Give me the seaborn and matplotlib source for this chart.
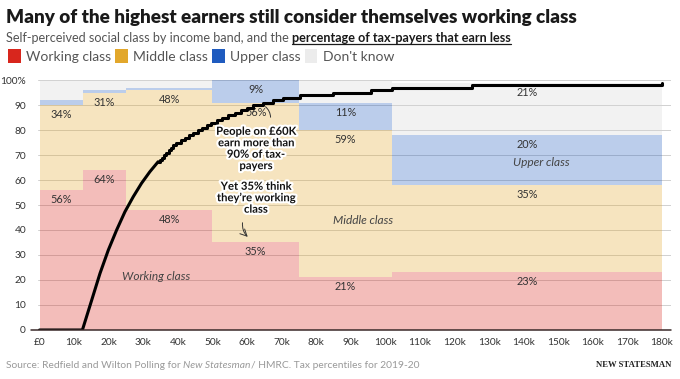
# SELF-PERCEIVED SOCIAL CLASS BY INCOME BAND

import numpy as np
import matplotlib.pyplot as plt
import matplotlib.patheffects as pe
from matplotlib.patches import Patch
from matplotlib.lines import Line2D
import seaborn as sns

# DATA

# income bands in £k (left edges + widths)
band_left = [0, 12.5, 25, 50, 75, 102]
band_width = [12.5, 12.5, 25, 25, 27, 78]

working = [56, 64, 48, 35, 21, 23]
middle = [34, 31, 48, 56, 59, 35]
upper = [2, 1, 1, 9, 11, 20]
dont_know = [8, 4, 3, 0, 9, 21]

# which segments get a % label
show_working = [True, True, True, True, True, True]
show_middle = [True, True, True, True, True, True]
show_upper = [False, False, False, True, True, True]
show_dk = [False, False, False, False, False, True]

# percentage of tax-payers earning less (smooth lower part)
curve_income = [0, 12.4, 15.1, 17.5, 19.9, 22.3, 24.7, 27.1, 29.5, 31.9, 34.3]
curve_pct = [0, 0, 12, 22.7, 32, 40, 47.3, 53.3, 58.7, 63.3, 67.3]

# upper part drawn as percentile steps
step_income = [34.3, 34.8, 35.5, 36.1, 36.7, 37.3, 37.9, 38.7, 39.6, 40.9,
               42.2, 43.3, 44.5, 45.7, 46.9, 48.3, 49.7, 51.2, 52.8, 54.6,
               56.5, 58.3, 60.1, 61.8, 64.6, 67.5, 70.5, 75.3, 85.0, 96.0,
               102.0, 125.0, 180.0]
step_pct = [67.3, 68, 69, 70, 71, 72, 73, 74, 75, 76,
            77, 78, 79, 80, 81, 82, 83, 84, 85, 86,
            87, 88, 89, 90, 91, 92, 93, 94, 95, 96,
            97, 98, 99]

x_ticks = list(range(0, 181, 10))
x_labels = ["£0"] + [f"{t}k" for t in x_ticks[1:]]
y_ticks = list(range(0, 101, 10))
y_labels = [str(t) for t in y_ticks[:-1]] + ["100%"]

class_names = ["Working class", "Middle class", "Upper class", "Don't know"]
class_colors = ["#d8261d", "#e2a72b", "#1f5bbf", "#d6d6d6"]
legend_colors = ["#d8261d", "#e2a72b", "#1f5bbf", "#ececec"]

# STYLE

sns.set_theme(style="white")
plt.rcParams["font.family"] = ["Lato", "DejaVu Sans"]

fig = plt.figure(figsize=(6.8, 3.79), dpi=100)
ax = fig.add_axes([0.0566, 0.1293, 0.9296, 0.6596])

# STACKED BARS

bottom = np.zeros(len(band_left))
stacks = [working, middle, upper, dont_know]
shows = [show_working, show_middle, show_upper, show_dk]
for vals, col, show in zip(stacks, class_colors, shows):
    ax.bar(band_left, vals, width=band_width, bottom=bottom, align="edge",
           color=col, alpha=0.3, linewidth=0, zorder=1)
    for left, w, b, v, s in zip(band_left, band_width, bottom, vals, show):
        if s:
            ax.text(left + w / 2, b + v - 3.8, f"{v}%", ha="center",
                    va="center", fontsize=7.8, color="#333333", zorder=3)
    bottom = bottom + np.array(vals)

# gridlines
for t in y_ticks[1:]:
    ax.axhline(t, color="#d0d0d0", lw=0.7, zorder=0.5)

# PERCENTILE LINE

sns.lineplot(x=curve_income, y=curve_pct, ax=ax, color="black", lw=2.2,
             sort=False, estimator=None, zorder=4)
sns.lineplot(x=step_income, y=step_pct, ax=ax, color="black", lw=2.2,
             sort=False, estimator=None, drawstyle="steps-post", zorder=4)

# class labels
ax.text(33.7, 21.3, "Working class", style="italic", fontsize=8.6,
        color="#444444", ha="center", va="center", zorder=3)
ax.text(93.7, 44, "Middle class", style="italic", fontsize=8.6,
        color="#444444", ha="center", va="center", zorder=3)
ax.text(145, 67, "Upper class", style="italic", fontsize=8.6,
        color="#444444", ha="center", va="center", zorder=3)

# ANNOTATIONS

halo = [pe.withStroke(linewidth=3, foreground="white")]
ax.text(62.6, 72.6, "People on £60K\nearn more than\n90% of tax-\npayers",
        ha="center", va="center", fontsize=8.1, fontweight="bold",
        color="#111111", linespacing=1.05, path_effects=halo, zorder=6)
ax.text(62.6, 52.9, "Yet 35% think\nthey’re working\nclass",
        ha="center", va="center", fontsize=8.1, fontweight="bold",
        color="#111111", linespacing=1.05, path_effects=halo, zorder=6)

ax.annotate("", xy=(64.7, 90), xytext=(66.8, 84),
            arrowprops=dict(arrowstyle="-", color="#333333", lw=0.7,
                            connectionstyle="arc3,rad=0.3"), zorder=6)
ax.annotate("", xy=(60.8, 36.5), xytext=(58.8, 44),
            arrowprops=dict(arrowstyle="->", color="#333333", lw=0.7,
                            connectionstyle="arc3,rad=0.3"), zorder=6)

# AXES

ax.set_xlim(-0.3, 182.5)
ax.set_ylim(0, 100)
ax.set_xticks(x_ticks)
ax.set_xticklabels(x_labels)
ax.set_yticks(y_ticks)
ax.set_yticklabels(y_labels)
ax.tick_params(axis="both", length=0, labelsize=7.3, colors="#333333")
ax.tick_params(axis="x", pad=6)
ax.tick_params(axis="y", pad=9)
for s in ax.spines.values():
    s.set_visible(False)
ax.plot([-2.6, 182.5], [0, 0], color="#3a2a2a", lw=1.1, clip_on=False,
        zorder=5)
ax.set_xlabel("")
ax.set_ylabel("")

# TITLES

fig.text(0.009, 1 - 17 / 379, "Many of the highest earners still consider themselves working class",
         fontsize=13.6, fontweight="heavy", color="#1a1a1a", va="center")
sub = fig.text(0.009, 1 - 37.5 / 379, "Self-perceived social class by income band, and the ",
               fontsize=9.1, color="#555555", va="center")
fig.canvas.draw()
r = fig.canvas.get_renderer()
bb = sub.get_window_extent(r)
bold = fig.text(bb.x1 / 680, 1 - 37.5 / 379, "percentage of tax-payers that earn less",
                fontsize=9.1, fontweight="bold", color="#1a1a1a", va="center")
bb2 = bold.get_window_extent(r)
fig.add_artist(Line2D([bb2.x0 / 680, bb2.x1 / 680],
                      [(bb2.y0 - 0.5) / 379, (bb2.y0 - 0.5) / 379],
                      color="#1a1a1a", lw=0.9))

# legend
handles = [Patch(facecolor=c, edgecolor="none", label=n)
           for c, n in zip(legend_colors, class_names)]
fig.legend(handles=handles, loc="center left", bbox_to_anchor=(0.0, 1 - 56 / 379),
           ncol=4, frameon=False, fontsize=10, handlelength=0.9,
           handleheight=1.25, handletextpad=0.38, columnspacing=0.3,
           borderpad=0, borderaxespad=0.6, labelcolor="#555555")

# FOOTER

fig.text(0.009, 1 - 365 / 379, "Source: Redfield and Wilton Polling for ",
         fontsize=7.4, color="#999999", va="center")
fig.canvas.draw()
src = fig.texts[-1].get_window_extent(r)
t2 = fig.text(src.x1 / 680, 1 - 365 / 379, "New Statesman",
              fontsize=7.4, color="#999999", va="center", style="italic")
src2 = t2.get_window_extent(r)
fig.text(src2.x1 / 680, 1 - 365 / 379, "/ HMRC. Tax percentiles for 2019-20",
         fontsize=7.4, color="#999999", va="center")

fig.text(0.988, 1 - 365 / 379, "NEW STATESMAN", fontsize=6.2,
         family="Liberation Serif", fontweight="bold", color="#222222",
         ha="right", va="center")

fig.savefig("out.png", dpi=100)
